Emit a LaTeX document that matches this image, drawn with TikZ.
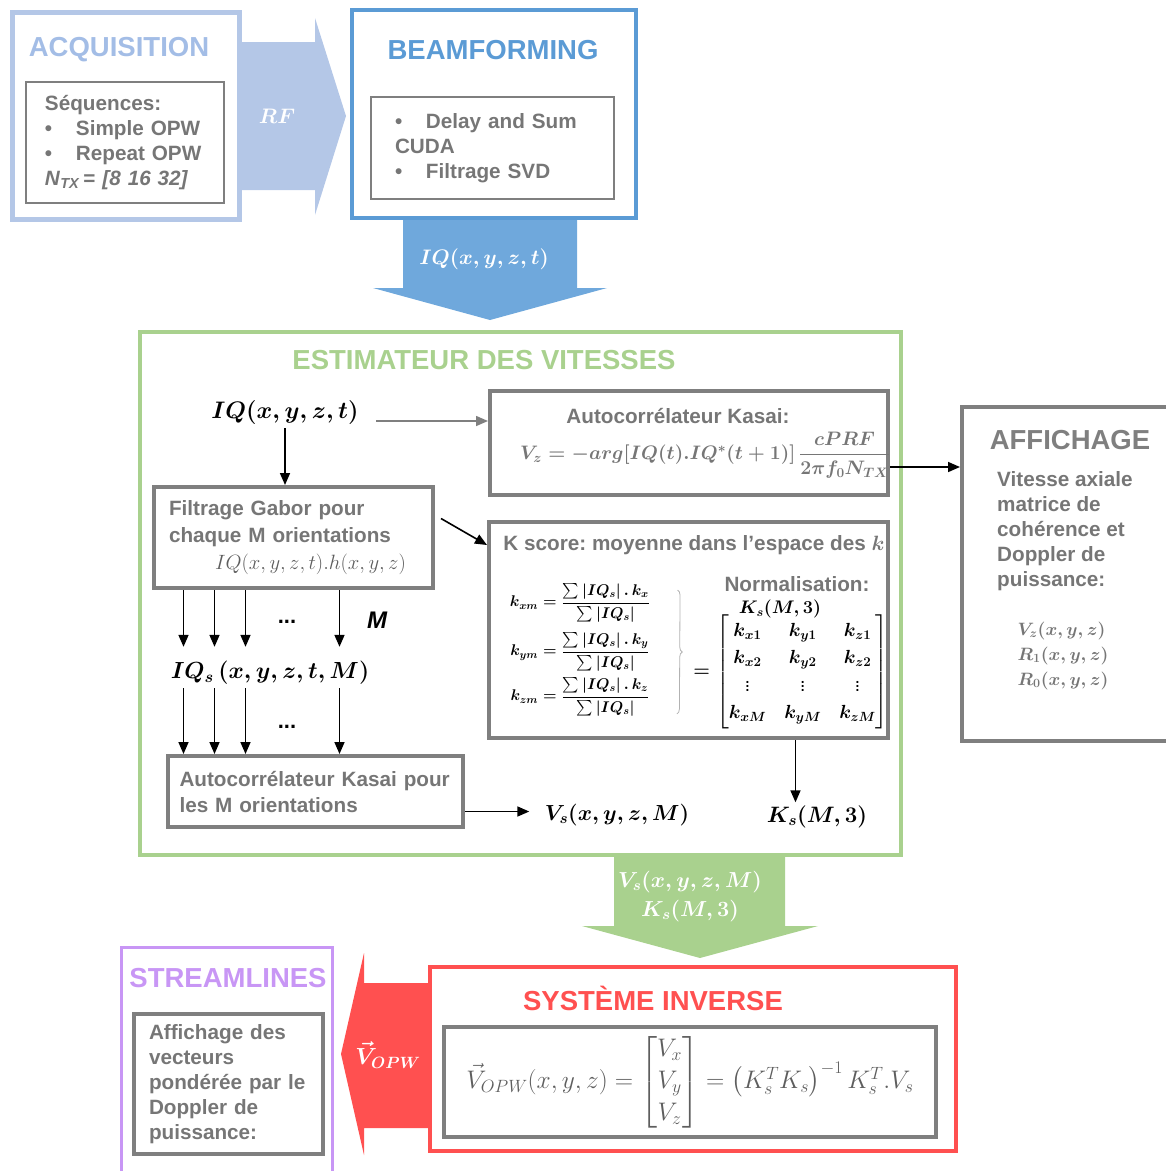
\RequirePackage{fix-cm}
\documentclass[tikz,border=0pt]{standalone}
\usepackage{amsmath, amssymb}
\usepackage{fontspec}
\setmainfont{Liberation Sans}
\usepackage{tikz}
\usetikzlibrary{arrows.meta, decorations.pathreplacing}

\definecolor{acqblue}{HTML}{B4C7E7}
\definecolor{acqtitle}{HTML}{A3BDE6}
\definecolor{beamblue}{HTML}{5B9BD5}
\definecolor{iqblue}{HTML}{6FA8DC}
\definecolor{estgreen}{HTML}{A9D18E}
\definecolor{boxgray}{HTML}{7F7F7F}
\definecolor{txtgray}{HTML}{767676}
\definecolor{mathgray}{HTML}{5E5E5E}
\definecolor{invred}{HTML}{FF5050}
\definecolor{slpurple}{HTML}{C896F5}

\newcommand{\puce}{\makebox[31pt][l]{\textbullet}}
\newcommand{\sz}[2]{\fontsize{#1}{#2}\selectfont}
\frenchspacing

\begin{document}
\begin{tikzpicture}[x=1pt, y=-1pt]
  \tikzstyle{frame} = [draw, rectangle, line width=4pt, inner sep=0pt]
  \tikzstyle{gbox} = [draw=boxgray, rectangle, line width=4pt, align=left, text=txtgray, font=\bfseries\sz{20.7}{25}]
  \tikzstyle{title} = [font=\bfseries\sz{27.5}{30}]
  \tikzstyle{txt} = [font=\bfseries\sz{20.7}{25}, text=txtgray, align=left, inner sep=0pt]
  \tikzstyle{bmath} = [font=\sz{23.9}{30}\mathversion{bold}]
  \tikzstyle{flow} = [->, >={Stealth[length=12pt, width=10pt, inset=0pt]}, line width=1.6pt]
  \useasboundingbox (0,0) rectangle (1166,1171);

  % block arrows
  \fill[acqblue] (242,42) -- (315,42) -- (315,18) -- (346,116) -- (315,215) -- (315,190) -- (242,190) -- cycle;
  \fill[iqblue] (403,220) -- (577,220) -- (577,288) -- (607,288) -- (490,320) -- (373,288) -- (403,288) -- cycle;
  \fill[estgreen] (614,857) -- (785,857) -- (785,926) -- (818,926) -- (700,958) -- (582,926) -- (614,926) -- cycle;
  \fill[invred] (428,983) -- (364,983) -- (364,953) -- (341,1054) -- (364,1155) -- (364,1128) -- (428,1128) -- cycle;
  \node[font=\sz{21}{24}\mathversion{bold}, text=white] (rf) at (277,116) {$RF$};
  \node[font=\sz{21}{24}\mathversion{bold}, text=white] (iqlbl) at (484,259) {$IQ(x,y,z,t)$};
  \node[font=\sz{21.7}{29}\mathversion{bold}, text=white] (vsk) at (690,896) {$\begin{array}{c}V_s(x,y,z,M)\\ K_s(M,3)\end{array}$};
  \node[font=\sz{23.3}{26}\mathversion{bold}, text=white] (vopw) at (388,1055) {$\vec{V}_{OPW}$};

  % acquisition
  \node[frame, draw=acqblue, line width=5pt, minimum width=227, minimum height=207] (acq) at (126,116) {};
  \node[title, text=acqtitle] (acqT) at (119,50) {ACQUISITION};
  \node[gbox, line width=2pt, minimum width=198, minimum height=121, text width=160, inner xsep=19pt] (seq) at (125,142.5)
    {Séquences:\\ \puce Simple OPW\\ \puce Repeat OPW\\ \textit{N}\textsubscript{\textit{TX}}\,= \textit{[8 16 32]}};

  % beamforming
  \node[frame, draw=beamblue, minimum width=284, minimum height=208] (beam) at (494,114) {};
  \node[title, text=beamblue] (beamT) at (493,50) {BEAMFORMING};
  \node[gbox, line width=2pt, minimum width=243, minimum height=102, text width=195, inner xsep=24pt] (das) at (492.5,148)
    {\puce Delay and Sum\\ CUDA\\ \puce Filtrage SVD};

  % estimateur
  \node[frame, draw=estgreen, minimum width=761, minimum height=523] (est) at (520.5,593.5) {};
  \node[title, text=estgreen] (estT) at (484,360) {ESTIMATEUR DES VITESSES};
  \node[bmath] (iq) at (285,413) {$IQ(x,y,z,t)$};

  \node[frame, draw=boxgray, minimum width=398, minimum height=104] (kasai) at (689,443) {};
  \node[txt] (kasaiT) at (678,416) {Autocorrélateur Kasai:};
  \node[font=\sz{19.5}{24}\mathversion{bold}, text=txtgray] (vz) at (705,455)
    {$V_z = -arg[IQ(t).IQ^*(t+1)]\,\dfrac{cPRF}{2\pi f_0N_{TX}}$};

  \node[gbox, font=\bfseries\sz{20.7}{27}, minimum width=279, minimum height=101, text width=249, inner xsep=15pt] (gabor) at (293.5,537.5)
    {Filtrage Gabor pour\\ chaque M orientations\\ \hspace*{46pt}\textcolor{mathgray}{$IQ(x,y,z,t).h(x,y,z)$}};

  \node[frame, draw=boxgray, minimum width=399, minimum height=216] (kscore) at (688.5,630) {};
  \node[txt] (kscoreT) at (694,545) {K score: moyenne dans l’espace des {\mathversion{bold}$k$}};
  \node[font=\sz{15.5}{18}\mathversion{bold}] (kx) at (580,603) {$k_{xm} = \dfrac{\sum|IQ_s|\,.\,k_x}{\sum|IQ_s|}$};
  \node[font=\sz{15.5}{18}\mathversion{bold}] (ky) at (580,652) {$k_{ym} = \dfrac{\sum|IQ_s|\,.\,k_y}{\sum|IQ_s|}$};
  \node[font=\sz{15.5}{18}\mathversion{bold}] (kz) at (580,697) {$k_{zm} = \dfrac{\sum|IQ_s|\,.\,k_z}{\sum|IQ_s|}$};
  \node[txt] (norm) at (797,584) {Normalisation:};
  \node[font=\sz{18.2}{22}\mathversion{bold}] (ks1) at (780,609) {$K_s(M,3)$};
  \node[font=\sz{19}{27.5}\mathversion{bold}] (mat) at (791,672)
    {\setlength\arraycolsep{9pt}$=\begin{bmatrix} k_{x1} & k_{y1} & k_{z1}\\ k_{x2} & k_{y2} & k_{z2}\\ \vdots & \vdots & \vdots\\ k_{xM} & k_{yM} & k_{zM}\end{bmatrix}$};
  \draw[decorate, decoration={brace, amplitude=5pt}, draw=boxgray!60, line width=0.8pt] ([xshift=24pt, yshift=-10pt]kx.north east) -- ([xshift=24pt, yshift=6pt]kz.south east);

  \node[font=\sz{23.3}{28}\mathversion{bold}] (iqs) at (270,673) {$IQ_s\,(x,y,z,t,M)$};
  \node[font=\bfseries\sz{22}{24}] (dots1) at (287,622) {...};
  \node[font=\bfseries\itshape\sz{24}{26}] (mM) at (377,620) {M};
  \node[font=\bfseries\sz{22}{24}] (dots2) at (287,727) {...};

  \node[gbox, font=\bfseries\sz{20.7}{26}, minimum width=295, minimum height=71, text width=272, inner xsep=11.5pt] (kasaim) at (315.5,791.5)
    {Autocorrélateur Kasai pour\\ les M orientations};
  \node[font=\sz{21.8}{26}\mathversion{bold}] (vs) at (617,815) {$V_s(x,y,z,M)$};
  \node[font=\sz{22.3}{26}\mathversion{bold}] (ks2) at (817,817) {$K_s(M,3)$};

  % affichage
  \node[frame, draw=boxgray, minimum width=210, minimum height=334] (aff) at (1067,574) {};
  \node[title, text=boxgray] (affT) at (1070,440) {AFFICHAGE};
  \node[txt, anchor=west] (affV) at (997,531.5) {Vitesse axiale\\ matrice de\\ cohérence et\\ Doppler de\\ puissance:};
  \node[font=\sz{17.9}{25}\mathversion{bold}, text=txtgray] (affM) at (1063,655)
    {$\begin{array}{l} V_z(x,y,z)\\ R_1(x,y,z)\\ R_0(x,y,z)\end{array}$};

  % systeme inverse
  \node[frame, draw=invred, minimum width=526, minimum height=184] (inv) at (693,1059) {};
  \node[title, text=invred] (invT) at (653,998) {SYSTÈME INVERSE};
  \node[gbox, font=\sz{25.4}{32}, text=mathgray, minimum width=492, minimum height=110, align=center] (sol) at (690,1082)
    {$\vec{V}_{OPW}(x,y,z) = \begin{bmatrix}V_x\\ V_y\\ V_z\end{bmatrix} = \left(K_s^TK_s\right)^{-1}K_s^T.V_s$};

  % streamlines
  \node[frame, draw=slpurple, line width=3pt, minimum width=211, minimum height=230] (sl) at (227,1062.5) {};
  \node[title, text=slpurple] (slT) at (228,978) {STREAMLINES};
  \node[gbox, minimum width=189, minimum height=140, text width=159, inner xsep=15pt] (vect) at (228.5,1084)
    {Affichage des\\ vecteurs\\ pondérée par le\\ Doppler de\\ puissance:};

  % connectors
  \coordinate (a1) at ([xshift=14pt, yshift=-8pt]iq.east);
  \draw[flow, draw=boxgray] (a1) -- (a1 -| kasai.west);
  \draw[flow] (iq.south) -- (iq.south |- gabor.north);
  \draw[flow] ([xshift=6pt, yshift=19pt]gabor.east) -- ([yshift=85pt]kscore.west);
  \foreach \dx in {-110,-79,-48,46} {
    \coordinate (g) at ([xshift=\dx pt]gabor.south);
    \draw[flow, shorten >=11pt] (g) -- (g |- iqs.north);
    \draw[flow] (g |- iqs.south) -- (g |- kasaim.north);
  }
  \coordinate (km) at ([yshift=-20pt]kasaim.east);
  \draw[flow, shorten >=12pt] (km) -- (km -| vs.west);
  \coordinate (kd) at ([xshift=107pt]kscore.south);
  \draw[flow] (kd) -- (kd |- ks2.north);
  \coordinate (ko) at ([yshift=-24pt]kasai.east);
  \draw[flow] (ko) -- (ko -| aff.west);
\end{tikzpicture}
\end{document}
